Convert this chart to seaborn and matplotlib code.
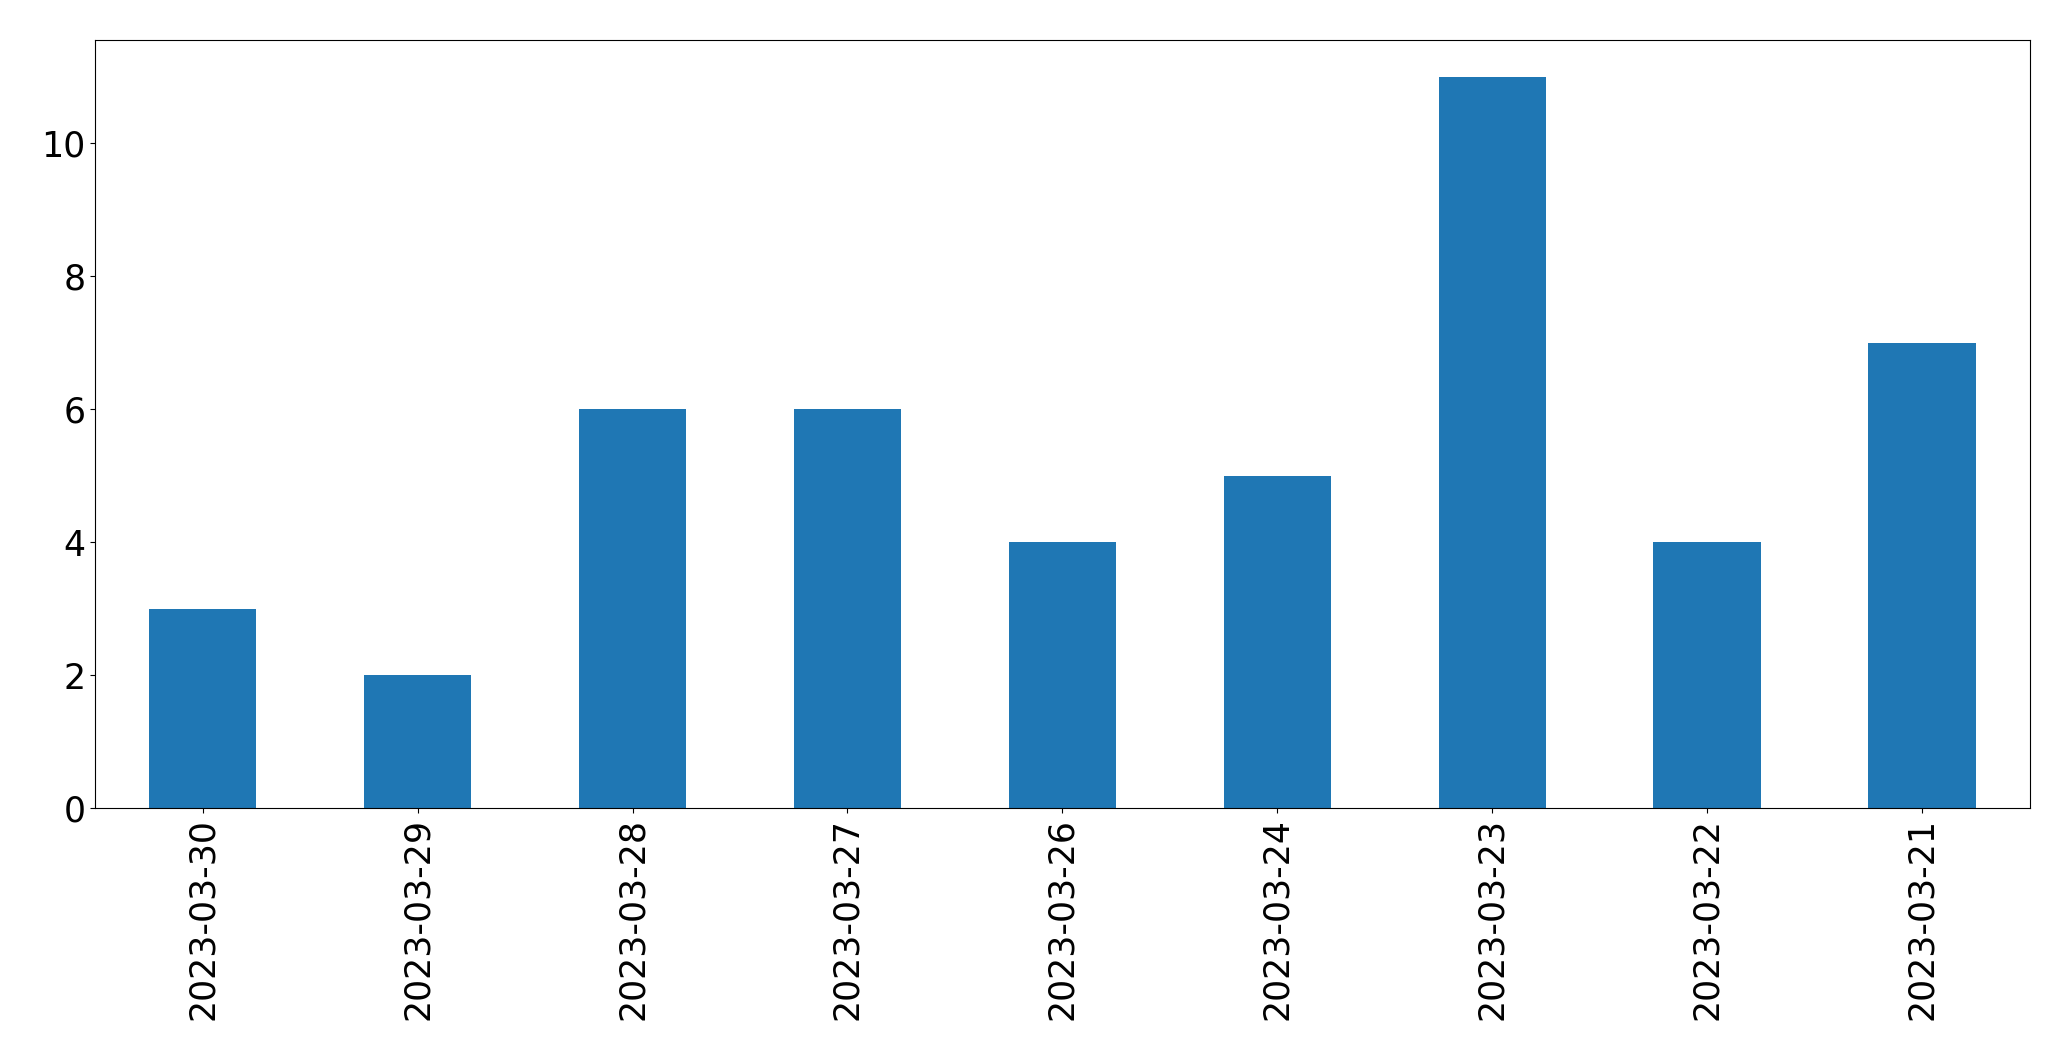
import matplotlib
matplotlib.use("Agg")
import matplotlib.pyplot as plt
import seaborn as sns
import pandas as pd

dates = ["2023-03-30", "2023-03-29", "2023-03-28", "2023-03-27", "2023-03-26",
         "2023-03-24", "2023-03-23", "2023-03-22", "2023-03-21"]
counts = [3, 2, 6, 6, 4, 5, 11, 4, 7]

df = pd.DataFrame({"date": dates, "count": counts})

fig, ax = plt.subplots(figsize=(20.71, 10.61), dpi=100)
fig.subplots_adjust(left=0.046, right=0.98, top=0.962, bottom=0.238)

sns.barplot(data=df, x="date", y="count", color="#1f77b4", saturation=1,
            width=0.5, linewidth=0, ax=ax, order=dates)

ax.set_xlabel("")
ax.set_ylabel("")
ax.set_xlim(-0.5, len(dates) - 0.5)
ax.set_yticks([0, 2, 4, 6, 8, 10])
ax.tick_params(axis="both", labelsize=25)
ax.tick_params(axis="x", labelrotation=90)

fig.savefig("out.png", dpi=100)
